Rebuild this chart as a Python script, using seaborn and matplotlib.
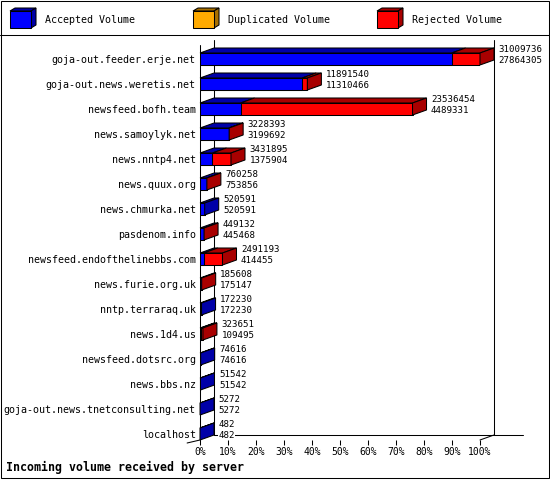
import numpy as np
import pandas as pd
import matplotlib
matplotlib.use('Agg')
import matplotlib.pyplot as plt
from matplotlib.patches import Polygon, Rectangle
import seaborn as sns

# data
servers = ['goja-out.feeder.erje.net', 'goja-out.news.weretis.net', 'newsfeed.bofh.team',
           'news.samoylyk.net', 'news.nntp4.net', 'news.quux.org', 'news.chmurka.net',
           'pasdenom.info', 'newsfeed.endofthelinebbs.com', 'news.furie.org.uk',
           'nntp.terraraq.uk', 'news.1d4.us', 'newsfeed.dotsrc.org', 'news.bbs.nz',
           'goja-out.news.tnetconsulting.net', 'localhost']
total = [31009736, 11891540, 23536454, 3228393, 3431895, 760258, 520591, 449132,
         2491193, 185608, 172230, 323651, 74616, 51542, 5272, 482]
accepted = [27864305, 11310466, 4489331, 3199692, 1375904, 753856, 520591, 445468,
            414455, 175147, 172230, 109495, 74616, 51542, 5272, 482]
legend_labels = ['Accepted Volume', 'Duplicated Volume', 'Rejected Volume']
legend_front = ['#0000FF', '#FFAA00', '#FF0000']
legend_dark = ['#0000A8', '#A87000', '#A80000']
xticks = list(range(0, 101, 10))
title = 'Incoming volume received by server'

df = pd.DataFrame({'server': servers, 'total': total, 'accepted': accepted})
df['total_pct'] = df['total'] / df['total'].max() * 100
df['acc_pct'] = df['accepted'] / df['total'].max() * 100

sns.set_style('white')
plt.rcParams['font.family'] = ['DejaVu Sans Mono']
plt.rcParams['text.color'] = 'black'
plt.rcParams['xtick.color'] = 'black'
plt.rcParams['ytick.color'] = 'black'

W, H = 550, 480
fig = plt.figure(figsize=(W / 100, H / 100), dpi=100)

# decoration layer in pixel coords (frame + legend)
deco = fig.add_axes([0, 0, 1, 1], zorder=0)
deco.set_xlim(0, W)
deco.set_ylim(H, 0)
deco.axis('off')
deco.add_patch(Rectangle((0.5, 0.5), 548, 477, fill=False, lw=0.75, ec='black'))
deco.plot([0, W], [35, 35], color='black', lw=0.75)
for k, lab in enumerate(legend_labels):
    x0 = [10, 193, 377][k]
    y0, w, h, dx, dy = 11, 21, 17, 5, -3
    deco.add_patch(Polygon([(x0, y0), (x0 + w, y0), (x0 + w + dx, y0 + dy), (x0 + dx, y0 + dy)],
                           fc=legend_dark[k], ec='black', lw=0.75))
    deco.add_patch(Polygon([(x0 + w, y0), (x0 + w + dx, y0 + dy), (x0 + w + dx, y0 + h + dy), (x0 + w, y0 + h)],
                           fc=legend_dark[k], ec='black', lw=0.75))
    deco.add_patch(Rectangle((x0, y0), w, h, fc=legend_front[k], ec='black', lw=0.75))
    deco.text(x0 + 35, 20, lab, fontsize=7.2, va='center', ha='left', color='black')
deco.text(6, 467, title, fontsize=8.4, fontweight='bold', va='center', ha='left', color='black')

# main chart: 0..100% spans 280px, one row = 25px
ax = fig.add_axes([200 / W, 40 / H, 280 / W, 400 / H], zorder=1)
ax.patch.set_visible(False)
bw = 0.48
sns.barplot(data=df, y='server', x='total_pct', orient='h', color='#FF0000', saturation=1,
            width=bw, edgecolor='black', linewidth=0.75, ax=ax, zorder=3)
sns.barplot(data=df, y='server', x='acc_pct', orient='h', color='#0000FF', saturation=1,
            width=bw, edgecolor='black', linewidth=0.75, ax=ax, zorder=3)

n = len(df)
floor = n - 1 + bw / 2
top_y = -0.76
ddx, ddy = 5, -0.2  # depth: 14px right, 5px up

# back walls / floor
ax.plot([ddx, ddx], [floor + ddy, top_y], color='black', lw=0.75, clip_on=False, zorder=1)
ax.plot([100 + ddx, 100 + ddx], [floor + ddy, top_y], color='black', lw=0.75, clip_on=False, zorder=1)
ax.plot([ddx, 115.4], [floor + ddy, floor + ddy], color='black', lw=0.75, clip_on=False, zorder=1)
ax.plot([0, 0], [floor, top_y - ddy], color='black', lw=0.75, clip_on=False, zorder=1)
ax.plot([-4.6, 0], [floor + 0.12, floor], color='black', lw=0.75, clip_on=False, zorder=1)
ax.plot([100, 100 + ddx], [floor, floor + ddy], color='black', lw=0.75, clip_on=False, zorder=1)

# 3d faces
for i, row in df.iterrows():
    xa, xt = row['acc_pct'], row['total_pct']
    t, b = i - bw / 2, i + bw / 2
    ax.add_patch(Polygon([(0, t), (xa, t), (xa + ddx, t + ddy), (ddx, t + ddy)],
                         fc='#0000A8', ec='black', lw=0.75, zorder=4, clip_on=False))
    if xt > xa:
        ax.add_patch(Polygon([(xa, t), (xt, t), (xt + ddx, t + ddy), (xa + ddx, t + ddy)],
                             fc='#A80000', ec='black', lw=0.75, zorder=4, clip_on=False))
    side = '#A80000' if row['total'] > row['accepted'] else '#0000A8'
    ax.add_patch(Polygon([(xt, t), (xt + ddx, t + ddy), (xt + ddx, b + ddy), (xt, b)],
                         fc=side, ec='black', lw=0.75, zorder=4, clip_on=False))
    tx = xt + ddx + 1.6
    box = dict(facecolor='white', edgecolor='none', boxstyle='square,pad=0.05')
    ax.text(tx, i - 0.38, str(row['total']), fontsize=6.6, va='center', ha='left', zorder=5,
            bbox=box, color='black')
    ax.text(tx, i + 0.06, str(row['accepted']), fontsize=6.6, va='center', ha='left', zorder=5,
            bbox=box, color='black')

ax.set_xlim(0, 100)
ax.set_ylim(floor, top_y)
ax.set_xticks(xticks)
ax.set_xticklabels([f'{v}%' for v in xticks], fontsize=7)
ax.tick_params(axis='x', direction='out', length=3.6, width=0.75, pad=1.5, bottom=True,
               colors='black')
ax.tick_params(axis='y', length=0, pad=3, labelsize=7.2, colors='black')
ax.set_xlabel('')
ax.set_ylabel('')
for s in ax.spines.values():
    s.set_visible(False)

fig.savefig('out.png', dpi=100)
